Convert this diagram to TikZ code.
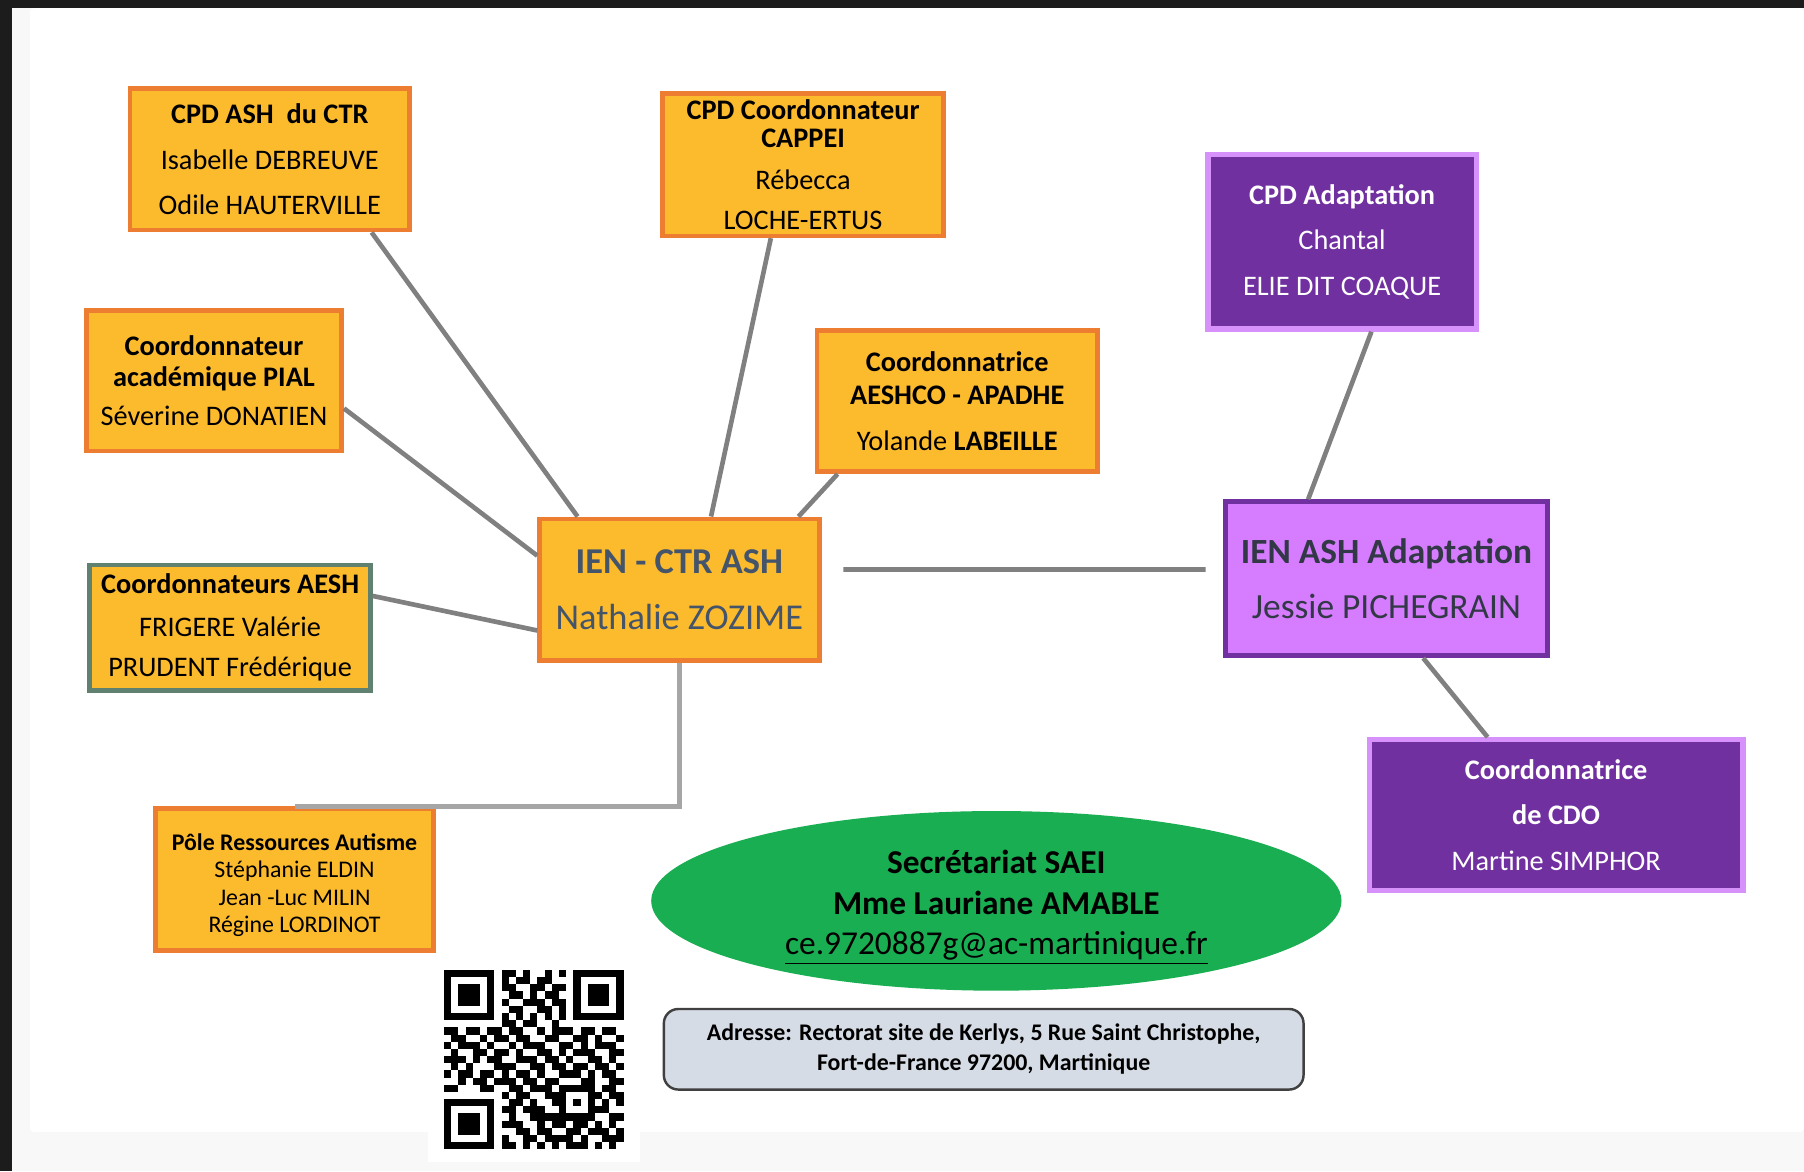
\documentclass[tikz,border=0pt]{standalone}
\usepackage{fontspec}
\setmainfont{Carlito}
\usetikzlibrary{shapes.geometric}

\definecolor{framedark}{RGB}{28,28,28}
\definecolor{bandgray}{RGB}{248,248,248}
\definecolor{boxorange}{RGB}{252,186,45}
\definecolor{boxedge}{RGB}{237,125,49}
\definecolor{aeshedge}{RGB}{96,128,112}
\definecolor{ctrtext}{RGB}{68,84,106}
\definecolor{darkpurple}{RGB}{112,48,160}
\definecolor{lightpurple}{RGB}{214,124,255}
\definecolor{purpleedge}{RGB}{215,145,250}
\definecolor{ashtext}{RGB}{50,56,70}
\definecolor{linkgray}{RGB}{128,128,128}
\definecolor{polegray}{RGB}{166,166,166}
\definecolor{saeigreen}{RGB}{26,174,82}
\definecolor{addrfill}{RGB}{214,220,229}
\definecolor{addredge}{RGB}{64,64,64}

\begin{document}
\begin{tikzpicture}[
    orgbox/.style={draw=boxedge, fill=boxorange, line width=2.3pt, inner sep=0pt,
      align=center, text=black, font=\fontsize{14}{15}\selectfont},
    cpdbox/.style={draw=purpleedge, fill=darkpurple, line width=2.6pt, inner sep=0pt,
      align=center, text=white, font=\fontsize{14}{15}\selectfont},
    link/.style={draw=linkgray, line width=2.3pt}
  ]
    \fill[framedark] (0,0) rectangle (31.36,-20.36);
    \fill[bandgray] (0.2,-0.14) rectangle (31.36,-20.36);
    \fill[white, rounded corners=2pt] (0.52,-0.14) rectangle (31.36,-19.68);
    \useasboundingbox (0,0) rectangle (31.36,-20.36);

    \node[orgbox, minimum width=4.86cm, minimum height=2.46cm] (ctr) at (4.69,-2.77)
      {\textbf{CPD ASH\ \ du CTR}\\[7.5pt] Isabelle DEBREUVE\\[7.5pt] Odile HAUTERVILLE};
    \node[orgbox, minimum width=4.88cm, minimum height=2.48cm] (cappei) at (13.96,-2.86)
      {\textbf{CPD Coordonnateur}\\[-1pt] \textbf{CAPPEI}\\[5.5pt] Rébecca\\[5pt] LOCHE-ERTUS};
    \node[orgbox, minimum width=4.44cm, minimum height=2.44cm] (pial) at (3.72,-6.62)
      {\textbf{Coordonnateur}\\[0pt] \textbf{académique PIAL}\\[4.3pt] Séverine DONATIEN};
    \node[orgbox, minimum width=4.88cm, minimum height=2.46cm] (aeshco) at (16.64,-6.97)
      {\textbf{Coordonnatrice}\\[1.5pt] \textbf{AESHCO - APADHE}\\[7.7pt] Yolande \textbf{LABEILLE}};
    \node[orgbox, draw=aeshedge, minimum width=4.88cm, minimum height=2.18cm] (aesh) at (4.0,-10.91)
      {\textbf{Coordonnateurs AESH}\\[6pt] FRIGERE Valérie\\[5pt] PRUDENT Frédérique};
    \node[orgbox, text=ctrtext, font=\fontsize{18}{22}\selectfont, minimum width=4.86cm,
      minimum height=2.46cm] (ien) at (11.81,-10.25)
      {\textbf{IEN - CTR ASH}\\[5.8pt] Nathalie ZOZIME};
    \node[orgbox, font=\fontsize{11.8}{13.6}\selectfont, minimum width=4.84cm,
      minimum height=2.46cm] (pole) at (5.12,-15.29)
      {\rule{0pt}{14pt}\textbf{Pôle Ressources Autisme}\\ Stéphanie ELDIN\\ Jean -Luc MILIN\\ Régine LORDINOT};

    \node[cpdbox, minimum width=4.66cm, minimum height=3.04cm] (adapt) at (23.33,-4.2)
      {\textbf{CPD Adaptation}\\[7.5pt] Chantal\\[7.5pt] ELIE DIT COAQUE};
    \node[cpdbox, draw=darkpurple, fill=lightpurple, text=ashtext, line width=2.3pt,
      font=\fontsize{17.5}{21}\selectfont, minimum width=5.6cm, minimum height=2.68cm]
      (ienash) at (24.1,-10.06)
      {\textbf{IEN ASH Adaptation}\\[6.2pt] Jessie PICHEGRAIN};
    \node[cpdbox, minimum width=6.5cm, minimum height=2.62cm] (cdo) at (27.05,-14.17)
      {\textbf{Coordonnatrice}\\[7.5pt] \textbf{de CDO}\\[7.5pt] Martine SIMPHOR};

    \node[ellipse, fill=saeigreen, minimum width=12cm, minimum height=2.92cm, inner sep=0pt,
      align=center, font=\fontsize{16.5}{20}\selectfont] (saei) at (17.32,-15.66)
      {\rule{0pt}{18pt}\textbf{Secrétariat SAEI}\\ \textbf{Mme Lauriane AMABLE}\\ \underline{ce.9720887g@ac-martinique.fr}};
    \node[draw=addredge, fill=addrfill, rounded corners=0.25cm, line width=1.2pt,
      minimum width=11.12cm, minimum height=1.4cm, align=center,
      font=\fontsize{11.8}{14.8}\selectfont\bfseries] (addr) at (17.1,-18.24)
      {Adresse: Rectorat site de Kerlys, 5 Rue Saint Christophe,\\ Fort-de-France 97200, Martinique};

    \draw[link] ([xshift=1.77cm]ctr.south) -- ([xshift=-1.77cm]ien.north);
    \draw[link] ([xshift=-0.56cm]cappei.south) -- ([xshift=0.55cm]ien.north);
    \draw[link] ([yshift=-0.48cm]pial.east) -- ([yshift=0.59cm]ien.west);
    \draw[link] ([xshift=-2.08cm]aeshco.south) -- ([xshift=2.07cm]ien.north);
    \draw[link] ([yshift=0.55cm]aesh.east) -- ([yshift=-0.71cm]ien.west);
    \draw[link, shorten <=0.38cm, shorten >=0.3cm] ([yshift=0.35cm]ien.east) -- ([yshift=0.16cm]ienash.west);
    \draw[link, draw=polegray] (ien.south) |- (pole.north);
    \draw[link] ([xshift=0.51cm]adapt.south) -- ([xshift=-1.36cm]ienash.north);
    \draw[link] ([xshift=0.64cm]ienash.south) -- ([xshift=-1.19cm]cdo.north);

    \fill[white] (7.44,-16.7) rectangle (11.12,-20.2);
    \begin{scope}[shift={(7.72,-16.86)}, x=0.1248cm, y=-0.1248cm]
      \foreach \qrrow [count=\j from 0] in {
          {1,1,1,1,1,1,1,0,1,1,0,1,0,0,1,0,1,0,1,1,1,1,1,1,1},
          {1,0,0,0,0,0,1,0,1,0,1,1,0,1,1,0,0,0,1,0,0,0,0,0,1},
          {1,0,1,1,1,0,1,0,1,1,0,0,1,1,0,1,1,0,1,0,1,1,1,0,1},
          {1,0,1,1,1,0,1,0,0,1,1,0,1,0,1,1,0,0,1,0,1,1,1,0,1},
          {1,0,1,1,1,0,1,0,1,0,0,1,1,1,0,1,1,0,1,0,1,1,1,0,1},
          {1,0,0,0,0,0,1,0,0,1,1,0,0,1,1,0,1,0,1,0,0,0,0,0,1},
          {1,1,1,1,1,1,1,0,1,0,1,0,1,0,1,0,1,0,1,1,1,1,1,1,1},
          {0,0,0,0,0,0,0,0,1,1,0,1,1,0,0,1,0,0,0,0,0,0,0,0,0},
          {1,1,0,1,1,0,1,1,0,1,1,0,0,1,0,1,1,1,0,1,1,0,1,1,0},
          {0,1,1,0,0,1,0,1,1,0,1,1,0,0,1,1,0,0,1,1,0,1,0,0,1},
          {1,0,1,1,1,0,1,0,0,1,0,1,1,1,0,0,1,1,0,1,0,1,1,1,0},
          {0,1,0,0,1,1,0,1,1,0,1,0,0,1,1,0,1,0,1,1,1,0,0,1,1},
          {1,1,1,0,1,0,1,1,0,0,1,1,1,0,1,1,0,1,0,0,1,1,0,1,0},
          {0,1,0,1,0,0,0,1,1,1,0,0,1,1,0,1,1,0,1,1,0,1,1,0,1},
          {1,0,1,1,0,1,1,0,1,0,1,1,0,1,0,0,1,1,1,0,1,0,1,1,0},
          {0,0,1,0,1,1,0,1,1,1,0,1,1,0,1,1,0,0,0,1,1,0,0,1,1},
          {1,1,0,0,0,1,1,0,0,1,1,0,1,1,1,0,1,1,1,1,1,0,1,1,0},
          {0,0,0,0,0,0,0,0,1,0,1,1,0,0,1,1,1,0,0,0,1,1,0,1,1},
          {1,1,1,1,1,1,1,0,0,1,1,0,1,0,0,1,1,0,1,0,1,0,1,0,1},
          {1,0,0,0,0,0,1,0,1,1,0,1,1,1,0,0,1,0,0,0,1,1,1,0,0},
          {1,0,1,1,1,0,1,0,0,1,0,0,1,1,1,1,1,1,1,1,1,0,0,1,1},
          {1,0,1,1,1,0,1,0,1,1,1,0,0,1,0,1,1,0,1,1,0,1,0,1,0},
          {1,0,1,1,1,0,1,0,0,0,1,1,0,1,1,0,0,1,1,0,1,1,1,0,1},
          {1,0,0,0,0,0,1,0,1,0,0,1,1,0,1,1,1,1,0,1,0,0,1,1,1},
          {1,1,1,1,1,1,1,0,1,1,0,1,0,1,0,1,0,1,1,1,0,1,0,1,0}}
        \foreach \qrbit [count=\i from 0] in \qrrow {
          \ifnum\qrbit=1 \fill (\i,\j) rectangle ++(1,1); \fi
        };
    \end{scope}
\end{tikzpicture}
\end{document}
